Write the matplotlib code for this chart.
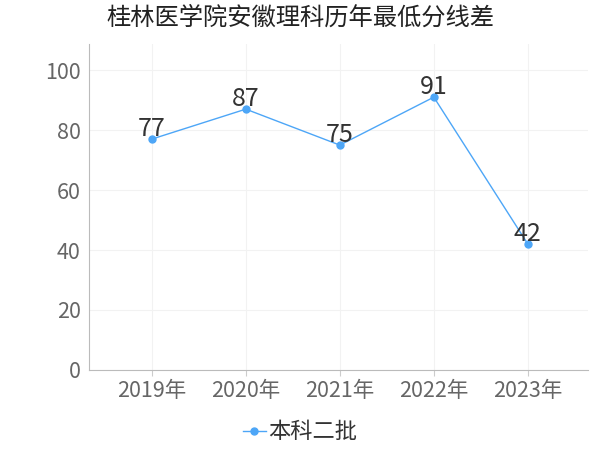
import matplotlib
matplotlib.use("Agg")
import matplotlib.pyplot as plt

plt.rcParams['font.family'] = ['Noto Sans CJK SC', 'DejaVu Sans']

years = ["2019年", "2020年", "2021年", "2022年", "2023年"]
values = [77, 87, 75, 91, 42]
series_name = "本科二批"
title = "桂林医学院安徽理科历年最低分线差"

fig = plt.figure(figsize=(6, 4.5), dpi=100)
ax = fig.add_axes([0.148, 0.178, 0.832, 0.724])

x = list(range(len(years)))
color = "#4da6f7"
ax.plot(x, values, color=color, lw=1, marker='o', ms=5, label=series_name)
for xi, v in zip(x, values):
    ax.annotate(str(v), (xi, v), xytext=(0, -2), textcoords='offset points',
                ha='center', va='bottom', fontsize=18, color='#333333')

ax.set_xlim(-0.67, 4.64)
ax.set_ylim(0, 108.7)
ax.set_xticks(x)
ax.set_xticklabels(years)
ax.set_yticks([0, 20, 40, 60, 80, 100])
ax.tick_params(axis='both', labelsize=15.5, colors='#666666', length=4, color='#cccccc')
ax.tick_params(axis='y', length=0, pad=6)
ax.tick_params(axis='x', pad=3)
ax.grid(True, color='#f2f2f2', lw=0.8)
ax.set_axisbelow(True)
for s in ['top', 'right']:
    ax.spines[s].set_visible(False)
for s in ['left', 'bottom']:
    ax.spines[s].set_color('#bbbbbb')

fig.suptitle(title, x=0.5, y=0.99, fontsize=17.5, color='#222222', va='top')
leg = fig.legend(loc='center', bbox_to_anchor=(0.5, 0.04), frameon=False,
                 fontsize=16, handlelength=1.0, handletextpad=0.1,
                 labelcolor='#333333')
fig.savefig("out.png", dpi=100)
